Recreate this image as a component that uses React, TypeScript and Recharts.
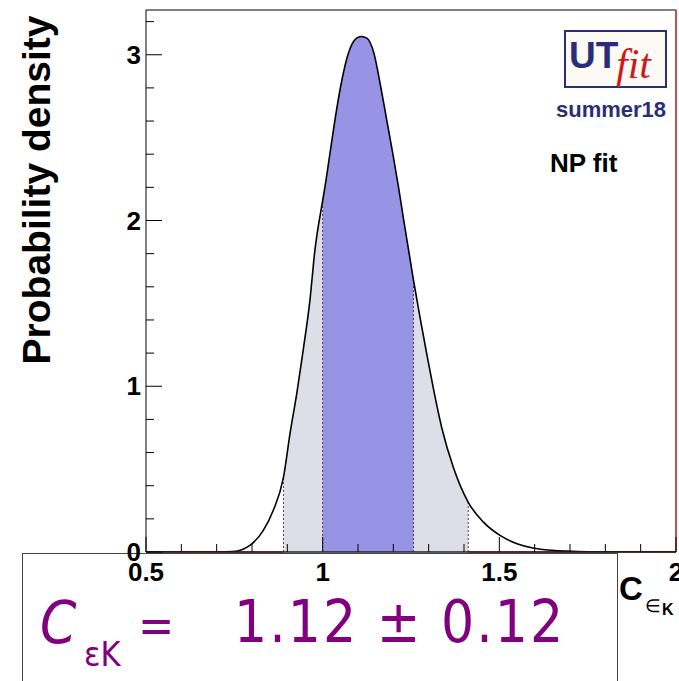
import React from "react";
import { Area, ComposedChart, Line, ReferenceLine, XAxis, YAxis } from "recharts";

// C_eps_K posterior
const xValues = [
  0.5, 0.6, 0.7, 0.746, 0.794, 0.832, 0.86, 0.889, 0.908, 0.927, 0.945, 0.964, 0.978, 1.0, 1.007, 1.021,
  1.035, 1.051, 1.073, 1.096, 1.109, 1.125, 1.145, 1.164, 1.181, 1.198, 1.214, 1.228, 1.257, 1.276, 1.295,
  1.313, 1.337, 1.37, 1.412, 1.455, 1.502, 1.55, 1.595, 1.65, 1.69, 1.75, 1.85, 2.0
];
const density = [
  0, 0, 0, 0.003, 0.04, 0.13, 0.25, 0.45, 0.72, 0.96, 1.22, 1.52, 1.82, 2.12, 2.21, 2.41,
  2.61, 2.81, 3.01, 3.1, 3.11, 3.1, 3.01, 2.81, 2.61, 2.41, 2.21, 2.02, 1.64, 1.41, 1.19,
  0.99, 0.75, 0.51, 0.3, 0.18, 0.1, 0.05, 0.024, 0.01, 0.005, 0.001, 0, 0
];
const band95 = [0.889, 1.412];
const band68 = [1.0, 1.257];

const xTicks = [0.5, 0.6, 0.7, 0.8, 0.9, 1.0, 1.1, 1.2, 1.3, 1.4, 1.5, 1.6, 1.7, 1.8, 1.9, 2.0];
const xMajor = [0.5, 1, 1.5, 2];
const yTicks = [0, 0.2, 0.4, 0.6, 0.8, 1, 1.2, 1.4, 1.6, 1.8, 2, 2.2, 2.4, 2.6, 2.8, 3, 3.2];
const yMajor = [0, 1, 2, 3];

const near = (a: number, b: number) => Math.abs(a - b) < 1e-6;
const inBand = (x: number, band: number[]) => x >= band[0] - 1e-9 && x <= band[1] + 1e-9;

const rows = xValues.map((x, i) => ({
  x,
  density: density[i],
  outer: inBand(x, band95) ? density[i] : null,
  inner: inBand(x, band68) ? density[i] : null
}));

const bandEdges = [band95[0], band68[0], band68[1], band95[1]];
const densityAt = (x: number) => density[xValues.findIndex((v) => near(v, x))];

const FONT = "'Liberation Sans', Arial, sans-serif";

function XTick(props: any) {
  const { x, y, payload } = props;
  const major = xMajor.some((m) => near(m, payload.value));
  return (
    <g>
      <line x1={x} x2={x} y1={y} y2={y - (major ? 15 : 8)} stroke="#000" strokeWidth={1} />
      {major && (
        <text x={x} y={y + 29} textAnchor="middle" fontFamily={FONT} fontWeight="bold" fontSize={26} fill="#000">
          {payload.value}
        </text>
      )}
    </g>
  );
}

function YTick(props: any) {
  const { x, y, payload } = props;
  const major = yMajor.some((m) => near(m, payload.value));
  return (
    <g>
      <line x1={x} x2={x + (major ? 16 : 8)} y1={y} y2={y} stroke="#000" strokeWidth={1} />
      {major && (
        <text x={x - 5} y={y + 9} textAnchor="end" fontFamily={FONT} fontWeight="bold" fontSize={26} fill="#000">
          {payload.value}
        </text>
      )}
    </g>
  );
}

export default function App() {
  return (
    <div style={{ position: "absolute", left: 0, top: 0, width: 679, height: 681, overflow: "hidden", background: "#fff" }}>
      {/* result box and annotations, below the chart layer */}
      <svg width={679} height={681} style={{ position: "absolute", left: 0, top: 0 }}>
        <rect x={22.5} y={553.5} width={595} height={140} fill="#fff" stroke="#444" strokeWidth={1} />
        <g fill="#800080" fontFamily="'DejaVu Sans Condensed', 'DejaVu Sans', sans-serif">
          <text x={40} y={643} fontSize={58} fontStyle="italic">C</text>
          <text x={84} y={666} fontSize={34}>εK</text>
          <text x={138} y={642} fontSize={48}>=</text>
          <text x={234} y={642} fontSize={58} letterSpacing={2}>1.12 ± 0.12</text>
        </g>
        <text
          x={50}
          y={190}
          transform="rotate(-90 50 190)"
          textAnchor="middle"
          fontFamily={FONT}
          fontWeight="bold"
          fontSize={39}
          fill="#000"
        >
          Probability density
        </text>
        <g fontFamily={FONT} fontWeight="bold" fill="#000">
          <text x={619} y={600} fontSize={33}>C</text>
          <text x={645} y={612} fontSize={18} fontWeight="normal">∈</text>
          <text x={662} y={615} fontSize={16}>K</text>
        </g>
        <rect x={565} y={31} width={101} height={56} fill="#fbfaf5" stroke="#2b2d78" strokeWidth={2} />
        <text x={569} y={68} fontFamily={FONT} fontWeight="bold" fontSize={37} fill="#2b2d78">UT</text>
        <text x={616} y={78} fontFamily="'Liberation Serif', serif" fontStyle="italic" fontSize={42} fill="#cc1a1a">fit</text>
        <text x={611} y={117} textAnchor="middle" fontFamily={FONT} fontWeight="bold" fontSize={22} fill="#2b2d78">
          summer18
        </text>
        <text x={550} y={172} fontFamily={FONT} fontWeight="bold" fontSize={26} fill="#000">NP fit</text>
      </svg>
      <div style={{ position: "absolute", left: 0, top: 0 }}>
        <ComposedChart width={679} height={681} data={rows} margin={{ top: 10, right: 3, bottom: 99, left: 86 }}>
          <XAxis
            dataKey="x"
            type="number"
            domain={[0.5, 2]}
            ticks={xTicks}
            interval={0}
            height={30}
            tickSize={0}
            tickMargin={0}
            tickLine={false}
            axisLine={{ stroke: "#222", strokeWidth: 1.5 }}
            tick={<XTick />}
            allowDataOverflow
          />
          <YAxis
            type="number"
            domain={[0, 3.27]}
            ticks={yTicks}
            interval={0}
            width={60}
            tickSize={0}
            tickMargin={0}
            tickLine={false}
            axisLine={{ stroke: "#000", strokeWidth: 1 }}
            tick={<YTick />}
            allowDataOverflow
          />
          <Area
            dataKey="outer"
            type="monotone"
            stroke="none"
            fill="#dedee8"
            fillOpacity={1}
            isAnimationActive={false}
            connectNulls={false}
          />
          <Area
            dataKey="inner"
            type="monotone"
            stroke="none"
            fill="#9794e6"
            fillOpacity={1}
            isAnimationActive={false}
            connectNulls={false}
          />
          {bandEdges.map((e) => (
            <ReferenceLine
              key={e}
              segment={[
                { x: e, y: 0 },
                { x: e, y: densityAt(e) }
              ]}
              stroke="#444"
              strokeDasharray="2 2"
              strokeWidth={1}
            />
          ))}
          <ReferenceLine segment={[{ x: 0.5, y: 0 }, { x: band95[0], y: 0 }]} stroke="#c81e1e" strokeWidth={1.5} />
          <ReferenceLine segment={[{ x: band95[1], y: 0 }, { x: 2, y: 0 }]} stroke="#c81e1e" strokeWidth={1.5} />
          <ReferenceLine y={3.27} stroke="#000" strokeWidth={1} />
          <ReferenceLine x={2} stroke="#b01818" strokeWidth={1.5} />
          <Line
            dataKey="density"
            type="monotone"
            stroke="#000"
            strokeWidth={1.6}
            dot={false}
            isAnimationActive={false}
          />
        </ComposedChart>
      </div>
    </div>
  );
}
